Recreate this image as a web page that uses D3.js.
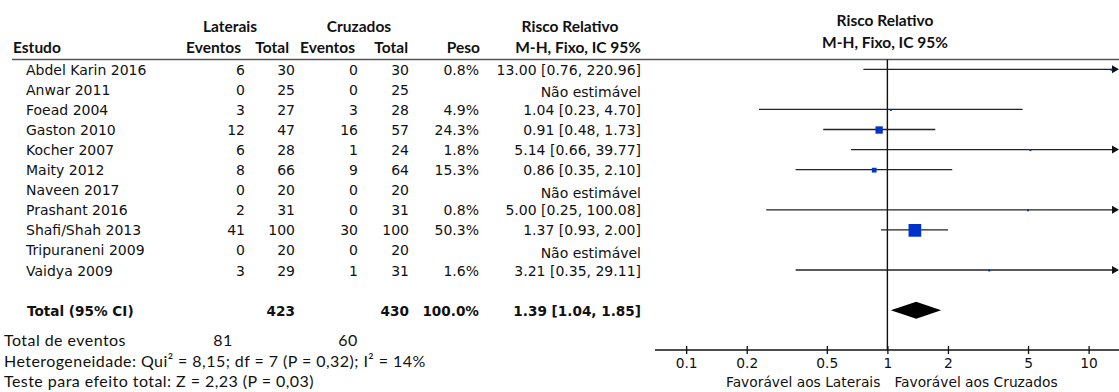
<!DOCTYPE html>
<html>
<head>
<meta charset="utf-8">
<script src="https://cdn.jsdelivr.net/npm/d3@7"></script>
<style>
  html, body { margin: 0; padding: 0; background: #fff; }
  svg { display: block; }
</style>
</head>
<body>
<svg id="chart" width="1119" height="392"></svg>
<script>
// Forest plot data: lateral vs. crossed pins, risk ratio (M-H, fixed, 95% CI)
const studies   = ["Abdel Karin 2016", "Anwar 2011", "Foead 2004", "Gaston 2010", "Kocher 2007",
                   "Maity 2012", "Naveen 2017", "Prashant 2016", "Shafi/Shah 2013", "Tripuraneni 2009", "Vaidya 2009"];
const latEvents = [6, 0, 3, 12, 6, 8, 0, 2, 41, 0, 3];
const latTotal  = [30, 25, 27, 47, 28, 66, 20, 31, 100, 20, 29];
const cruEvents = [0, 0, 3, 16, 1, 9, 0, 0, 30, 0, 1];
const cruTotal  = [30, 25, 28, 57, 24, 64, 20, 31, 100, 20, 31];
const weights   = [0.8, null, 4.9, 24.3, 1.8, 15.3, null, 0.8, 50.3, null, 1.6];
const rr        = [13.00, null, 1.04, 0.91, 5.14, 0.86, null, 5.00, 1.37, null, 3.21];
const ciLow     = [0.76, null, 0.23, 0.48, 0.66, 0.35, null, 0.25, 0.93, null, 0.35];
const ciHigh    = [220.96, null, 4.70, 1.73, 39.77, 2.10, null, 100.08, 2.00, null, 29.11];

const pooled       = [1.39, 1.04, 1.85];   // estimate, lower, upper
const pooledTotals = [423, 430];
const pooledWeight = 100.0;
const totalEvents  = [81, 60];
const tickValues   = [0.1, 0.2, 0.5, 1, 2, 5, 10];

const svg = d3.select("#chart");
const bodyFont = "'DejaVu Sans', sans-serif";
const headFont = "Lato, 'Open Sans', sans-serif";
const blue = "#0033cc";

// layout
const rowTop = 69.3, rowStep = 20.07;
const rowY = i => rowTop + i * rowStep;
const axisY = 350;
const x = d3.scaleLog().domain([0.07, 14]).range([655, 1118]);
const xMax = x.range()[1];

const f2 = d3.format(".2f"), f1 = d3.format(".1f");

// column right edges
const col = { latE: 245, latT: 295, cruE: 358, cruT: 409, peso: 479, rr: 641 };

// ---- headers ----
const hdr = svg.append("g").attr("font-family", headFont).attr("font-weight", 700)
  .attr("font-size", 15.5).attr("fill", "#111");
hdr.append("text").attr("x", 230).attr("y", 32).attr("text-anchor", "middle").text("Laterais");
hdr.append("text").attr("x", 359).attr("y", 32).attr("text-anchor", "middle").text("Cruzados");
hdr.append("text").attr("x", 570).attr("y", 32).attr("text-anchor", "middle").text("Risco Relativo");
hdr.append("text").attr("x", 13).attr("y", 53).text("Estudo");
[["Eventos", 241], ["Total", 289], ["Eventos", 355], ["Total", 408],
 ["Peso", 480], ["M-H, Fixo, IC 95%", 641]].forEach(([t, xx]) =>
  hdr.append("text").attr("x", xx).attr("y", 53).attr("text-anchor", "end").text(t));
hdr.append("text").attr("x", 885).attr("y", 26).attr("text-anchor", "middle").text("Risco Relativo");
hdr.append("text").attr("x", 885).attr("y", 48).attr("text-anchor", "middle").text("M-H, Fixo, IC 95%");

// header rule
svg.append("line").attr("x1", 12).attr("x2", 1119).attr("y1", 59.5).attr("y2", 59.5)
  .attr("stroke", "#555").attr("stroke-width", 1.6);

// ---- study rows ----
const body = svg.append("g").attr("font-family", bodyFont).attr("font-size", 14).attr("fill", "#111");
studies.forEach((s, i) => {
  const y = rowY(i) + 5.5;
  body.append("text").attr("x", 26).attr("y", y).text(s);
  body.append("text").attr("x", col.latE).attr("y", y).attr("text-anchor", "end").text(latEvents[i]);
  body.append("text").attr("x", col.latT).attr("y", y).attr("text-anchor", "end").text(latTotal[i]);
  body.append("text").attr("x", col.cruE).attr("y", y).attr("text-anchor", "end").text(cruEvents[i]);
  body.append("text").attr("x", col.cruT).attr("y", y).attr("text-anchor", "end").text(cruTotal[i]);
  if (rr[i] == null) {
    body.append("text").attr("x", col.rr).attr("y", y + 2.5).attr("text-anchor", "end").text("Não estimável");
  } else {
    body.append("text").attr("x", col.peso).attr("y", y).attr("text-anchor", "end").text(f1(weights[i]) + "%");
    body.append("text").attr("x", col.rr).attr("y", y).attr("text-anchor", "end")
      .text(`${f2(rr[i])} [${f2(ciLow[i])}, ${f2(ciHigh[i])}]`);
  }
});

// pooled row
const tRow = 12, ty = rowY(tRow) + 5.5;
const tot = svg.append("g").attr("font-family", bodyFont).attr("font-size", 13.6)
  .attr("font-weight", 700).attr("fill", "#111");
tot.append("text").attr("x", 27).attr("y", ty).text("Total (95% CI)");
tot.append("text").attr("x", col.latT).attr("y", ty).attr("text-anchor", "end").text(pooledTotals[0]);
tot.append("text").attr("x", col.cruT).attr("y", ty).attr("text-anchor", "end").text(pooledTotals[1]);
tot.append("text").attr("x", col.peso).attr("y", ty).attr("text-anchor", "end").text(f1(pooledWeight) + "%");
tot.append("text").attr("x", col.rr).attr("y", ty).attr("text-anchor", "end")
  .text(`${f2(pooled[0])} [${f2(pooled[1])}, ${f2(pooled[2])}]`);

// footer statistics
const foot = svg.append("g").attr("font-family", headFont).attr("font-size", 16)
  .attr("letter-spacing", 0.45).attr("fill", "#111");
foot.append("text").attr("x", 4).attr("y", 346).text("Total de eventos");
foot.append("text").attr("x", 223).attr("y", 346).attr("text-anchor", "middle").text(totalEvents[0]);
foot.append("text").attr("x", 348).attr("y", 346).attr("text-anchor", "middle").text(totalEvents[1]);
foot.append("text").attr("x", 4).attr("y", 366.5).text("Heterogeneidade: Qui² = 8,15; df = 7 (P = 0,32); I² = 14%");
foot.append("text").attr("x", 4).attr("y", 386.5).text("Teste para efeito total: Z = 2,23 (P = 0,03)");

// ---- plot ----
const plot = svg.append("g");
// line of no effect
plot.append("line").attr("x1", x(1)).attr("x2", x(1)).attr("y1", 59.5).attr("y2", axisY)
  .attr("stroke", "#111").attr("stroke-width", 1.4);

// side of the weight squares grows with the square root of the weight
const boxSide = d3.scaleLinear().domain([Math.sqrt(4), Math.sqrt(50.3)]).range([0, 12.7]);

studies.forEach((s, i) => {
  if (rr[i] == null) return;
  const y = rowY(i);
  const x1 = x(ciLow[i]);
  const clipped = ciHigh[i] > x.domain()[1];
  const x2 = clipped ? xMax - 5 : x(ciHigh[i]);
  plot.append("line").attr("x1", x1).attr("x2", x2).attr("y1", y).attr("y2", y)
    .attr("stroke", "#222").attr("stroke-width", 1.3);
  if (clipped) {
    plot.append("path")
      .attr("d", `M${xMax - 6},${y - 4} L${xMax + 1},${y} L${xMax - 6},${y + 4} Z`)
      .attr("fill", "#111");
  }
  const side = Math.max(2, boxSide(Math.sqrt(weights[i])));
  plot.append("rect").attr("x", x(rr[i]) - side / 2).attr("y", y - side / 2 + 0.5)
    .attr("width", side).attr("height", side).attr("fill", blue);
});

// pooled diamond
const dy = rowY(tRow);
plot.append("path")
  .attr("d", `M${x(pooled[1])},${dy} L${x(pooled[0])},${dy - 8.5} L${x(pooled[2])},${dy} L${x(pooled[0])},${dy + 8.5} Z`)
  .attr("fill", "#000");

// log axis
const axis = d3.axisBottom(x).tickValues(tickValues).tickSize(0).tickFormat(d3.format("~g"));
const ag = plot.append("g").attr("transform", `translate(0,${axisY})`).call(axis);
ag.select(".domain").remove();
ag.append("line").attr("x1", x.range()[0]).attr("x2", 1119).attr("stroke", "#111").attr("stroke-width", 1.3);
ag.selectAll(".tick line").remove();
ag.selectAll(".tick").append("line").attr("y1", -4).attr("y2", 4).attr("stroke", "#111").attr("stroke-width", 1.3);
ag.selectAll(".tick text").attr("y", 0).attr("dy", "18px")
  .attr("font-family", bodyFont).attr("font-size", 13.8).attr("fill", "#111");

const lab = plot.append("g").attr("font-family", bodyFont).attr("font-size", 13.8).attr("fill", "#111");
lab.append("text").attr("x", x(1) - 7).attr("y", 387).attr("text-anchor", "end").text("Favorável aos Laterais");
lab.append("text").attr("x", x(1) + 7).attr("y", 387).text("Favorável aos Cruzados");
</script>
</body>
</html>
